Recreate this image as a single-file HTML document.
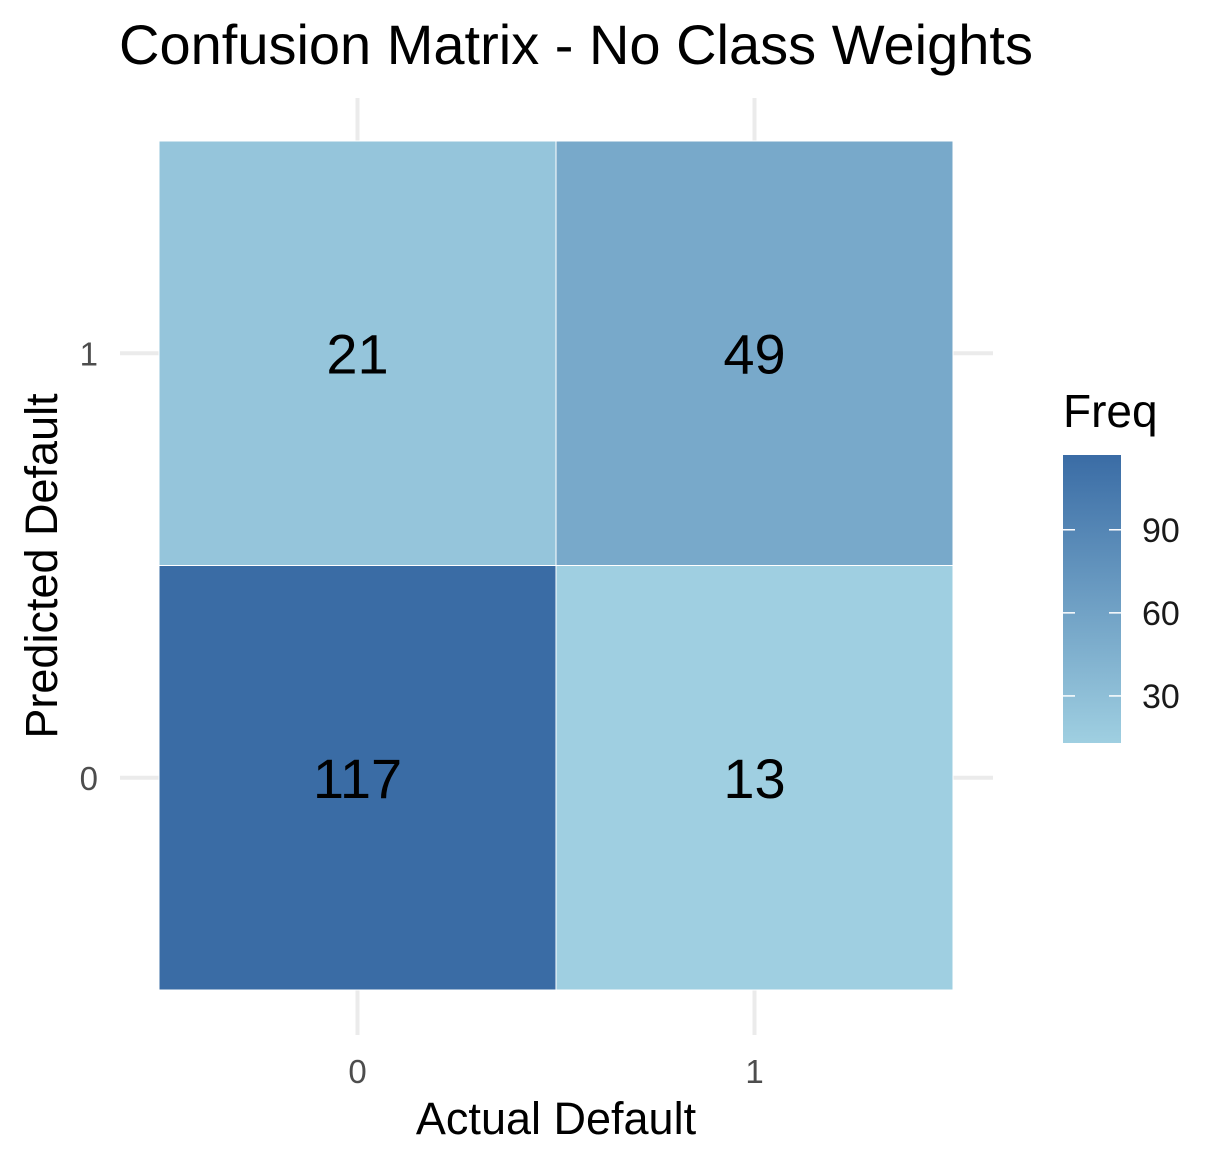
<!DOCTYPE html>
<html><head><meta charset="utf-8"><style>
body{margin:0;background:#fff}
svg text{font-family:"Liberation Sans",Arial,sans-serif}
</style></head><body>
<svg id="chart" width="1232" height="1167" viewBox="0 0 1232 1167">
<defs><linearGradient id="grad" x1="0" y1="1" x2="0" y2="0">
<stop offset="0" stop-color="#9fcfe1"/><stop offset="1" stop-color="#3a6ca5"/></linearGradient></defs>
<g id="grid"></g><g id="cells"></g><g id="labels"></g>
<text x="576" y="64" font-size="56" text-anchor="middle">Confusion Matrix - No Class Weights</text>
<text x="556" y="1134" font-size="45" text-anchor="middle">Actual Default</text>
<text transform="translate(57,566) rotate(-90)" font-size="45" text-anchor="middle">Predicted Default</text>
<text x="1063" y="427" font-size="46">Freq</text>
<rect x="1063" y="455" width="58" height="288" fill="url(#grad)"/>
<g id="legend"></g>
</svg>
<script>
const xCats=["0","1"];
const yCats=["0","1"];
const actual=["0","0","1","1"];
const predicted=["0","1","0","1"];
const freq=[117,21,13,49];
const legendTicks=[30,60,90];
const svg=document.getElementById('chart');
const NS="http://www.w3.org/2000/svg";
const px0=159,px1=953,py0=141,py1=990;
const cw=(px1-px0)/xCats.length,ch=(py1-py0)/yCats.length;
const xs=c=>px0+cw*(xCats.indexOf(c)+0.5);
const ys=c=>py1-ch*(yCats.indexOf(c)+0.5);
const fmin=Math.min(...freq),fmax=Math.max(...freq);
function col(v){const t=Math.pow((v-fmin)/(fmax-fmin),0.9);const a=[159,207,225],b=[58,108,165];
return `rgb(${a.map((x,i)=>Math.round(x+(b[i]-x)*t)).join(',')})`;}
function mk(tag,attrs,parent,txt){const e=document.createElementNS(NS,tag);for(const k in attrs)e.setAttribute(k,attrs[k]);if(txt!==undefined)e.textContent=txt;parent.appendChild(e);return e;}
const grid=document.getElementById('grid'),cells=document.getElementById('cells'),labels=document.getElementById('labels'),legend=document.getElementById('legend');
xCats.forEach(c=>{const x=xs(c);
const l=mk('line',{x1:x,x2:x,y1:98,y2:1035,stroke:'#ebebeb','stroke-width':4},grid);


const t=mk('text',{x:x,y:1083,'font-size':33,fill:'#4d4d4d','text-anchor':'middle'},labels,c);

});
yCats.forEach(c=>{const y=ys(c);
const l=mk('line',{x1:120,x2:993,y1:y,y2:y,stroke:'#ebebeb','stroke-width':4},grid);


const t=mk('text',{x:98,y:y+12,'font-size':33,fill:'#4d4d4d','text-anchor':'end'},labels,c);

});
freq.forEach((v,i)=>{const cx=xs(actual[i]),cy=ys(predicted[i]);
const r=mk('rect',{x:cx-cw/2,y:cy-ch/2,width:cw,height:ch,fill:col(v),stroke:'#fff','stroke-width':1},cells);


const t=mk('text',{x:cx,y:cy+20,'font-size':56,'text-anchor':'middle'},labels,String(v));

});
const ly0=455,ly1=743;
const ly=v=>ly1-(v-fmin)/(fmax-fmin)*(ly1-ly0);
legendTicks.forEach(v=>{const y=ly(v);
mk('line',{x1:1063,x2:1075,y1:y,y2:y,stroke:'#fff','stroke-width':1.5},legend);
mk('line',{x1:1109,x2:1121,y1:y,y2:y,stroke:'#fff','stroke-width':1.5},legend);
const t=mk('text',{x:1142,y:y+12,'font-size':34,fill:'#1a1a1a'},legend,String(v));

});
</script>
</body></html>
